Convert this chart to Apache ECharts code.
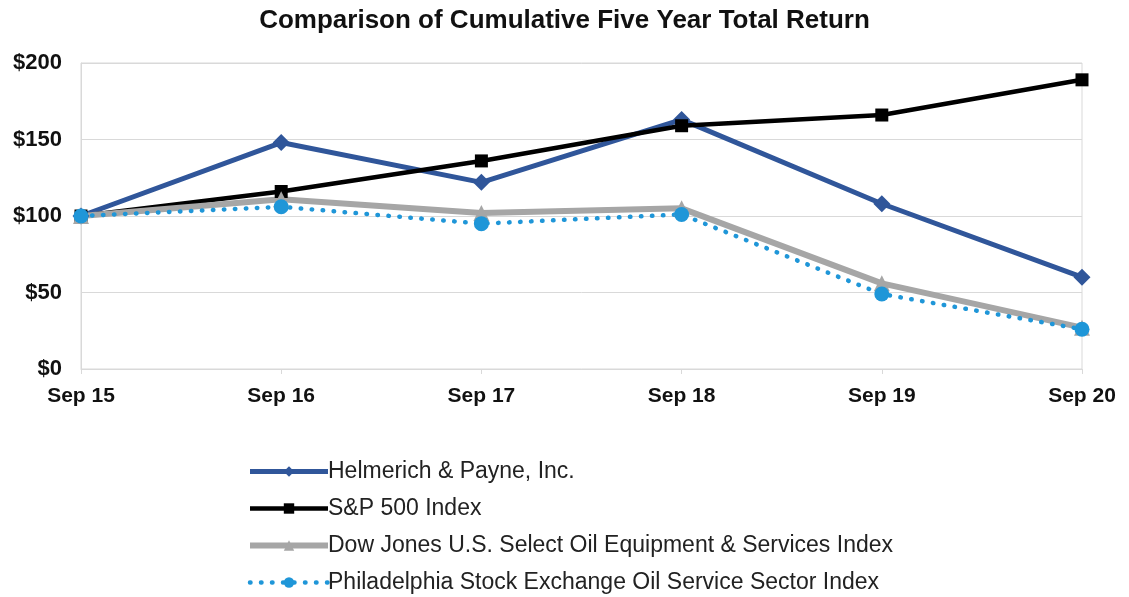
<!DOCTYPE html>
<html>
<head>
<meta charset="utf-8">
<script src="https://cdn.jsdelivr.net/npm/echarts@6/dist/echarts.min.js"></script>
<style>
html,body{margin:0;padding:0;background:#fff;}
#chart{width:1129px;height:597px;}
</style>
</head>
<body>
<div id="chart"></div>
<script>
var categories = ['Sep 15', 'Sep 16', 'Sep 17', 'Sep 18', 'Sep 19', 'Sep 20'];
var helmerich = [100, 148, 122, 163, 108, 60];
var sp500 = [100, 116, 136, 159, 166, 189];
var dowJones = [100, 111, 102, 105, 56, 27];
var philadelphia = [100, 106, 95, 101, 49, 26];
var seriesNames = [
  'Helmerich & Payne, Inc.',
  'S&P 500 Index',
  'Dow Jones U.S. Select Oil Equipment & Services Index',
  'Philadelphia Stock Exchange Oil Service Sector Index'
];
var yTicks = [0, 50, 100, 150, 200];

var chart = echarts.init(document.getElementById('chart'));
var font = 'Arial, "Liberation Sans", Helvetica, sans-serif';
chart.setOption({
  backgroundColor: '#ffffff',
  animation: false,
  title: {
    text: 'Comparison of Cumulative Five Year Total Return',
    left: 'center',
    top: 3,
    textStyle: {fontFamily: font, fontSize: 26, fontWeight: 'bold', color: '#111'}
  },
  grid: {left: 81, right: 47, top: 63, bottom: 228, show: true, borderColor: '#d9d9d9', borderWidth: 1},
  legend: {
    orient: 'vertical',
    left: 247,
    top: 460,
    padding: 0,
    itemWidth: 78,
    itemHeight: 13,
    itemGap: 14,
    lineStyle: {width: 'inherit', type: 'inherit'},
    textStyle: {fontFamily: font, fontSize: 23, color: '#222', padding: [0, 0, 0, -5]},
    data: seriesNames
  },
  xAxis: {
    type: 'category',
    data: categories,
    boundaryGap: false,
    axisLine: {lineStyle: {color: '#d9d9d9'}},
    axisTick: {show: true, length: 5, lineStyle: {color: '#d9d9d9'}},
    axisLabel: {fontFamily: font, fontSize: 21, fontWeight: 'bold', color: '#111', margin: 17}
  },
  yAxis: {
    type: 'value',
    min: yTicks[0],
    max: yTicks[yTicks.length - 1],
    interval: 50,
    axisLine: {show: true, lineStyle: {color: '#d9d9d9'}},
    axisTick: {show: false},
    splitLine: {lineStyle: {color: '#d9d9d9'}},
    axisLabel: {fontFamily: font, fontSize: 22, fontWeight: 'bold', color: '#111', margin: 19,
      formatter: function (v) { return '$' + v; }}
  },
  series: [
    {
      name: seriesNames[0], type: 'line', data: helmerich,
      symbol: 'diamond', symbolSize: 17,
      lineStyle: {color: '#30569a', width: 5},
      itemStyle: {color: '#30569a'}
    },
    {
      name: seriesNames[1], type: 'line', data: sp500,
      symbol: 'rect', symbolSize: 13,
      lineStyle: {color: '#000000', width: 4.5},
      itemStyle: {color: '#000000'}
    },
    {
      name: seriesNames[2], type: 'line', data: dowJones,
      symbol: 'triangle', symbolSize: 16,
      lineStyle: {color: '#a6a6a6', width: 6},
      itemStyle: {color: '#a6a6a6'}
    },
    {
      name: seriesNames[3], type: 'line', data: philadelphia,
      symbol: 'circle', symbolSize: 15,
      lineStyle: {color: '#1f96d8', width: 4.5, type: [0.5, 10.5], cap: 'round'},
      itemStyle: {color: '#1f96d8'}
    }
  ]
});
</script>
</body>
</html>
